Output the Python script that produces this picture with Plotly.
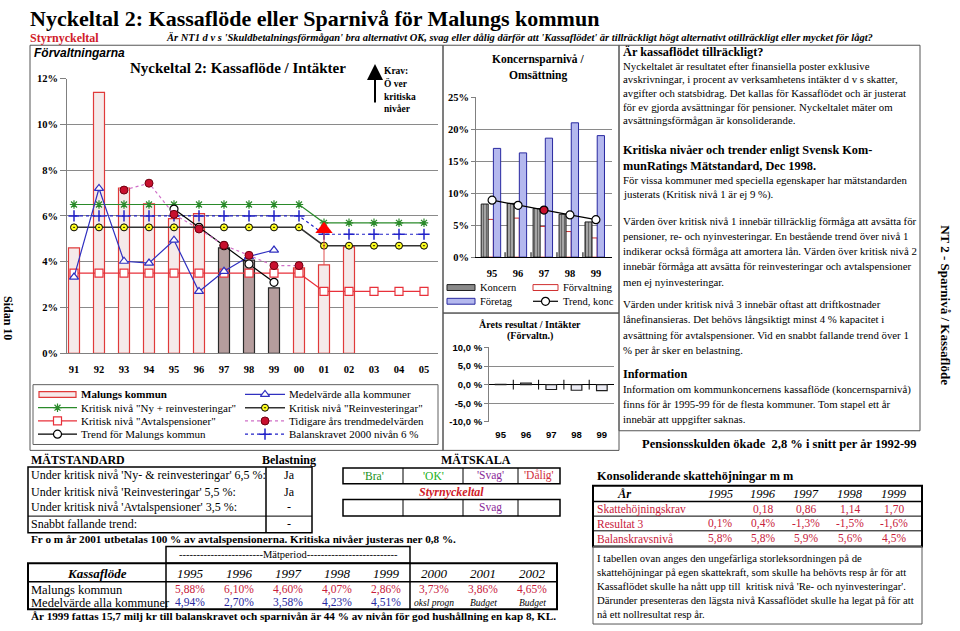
import plotly.graph_objects as go

W, H = 960, 631
def X(p): return p / W
def Y(p): return 1 - p / H

SERIF = "Liberation Serif, Times New Roman, serif"
SANS = "Liberation Sans, Arial, sans-serif"

# ---------------- data ----------------
years_main = ['91', '92', '93', '94', '95', '96', '97', '98', '99', '00', '01', '02', '03', '04', '05']
malung_bar = [4.60, 11.40, 7.22, 6.53, 5.88, 6.10, 4.60, 4.07, 2.86, 3.73, 3.86, 4.65]
medel_alla = [3.33, 7.20, 4.02, 3.94, 4.94, 2.70, 3.58, 4.23, 4.51]
krit_ny_rein = [6.5, 6.5, 6.5, 6.5, 6.5, 6.5, 6.5, 6.5, 6.5, 6.5, 5.7, 5.7, 5.7, 5.7, 5.7]
krit_reinv = [5.5, 5.5, 5.5, 5.5, 5.5, 5.5, 5.5, 5.5, 5.5, 5.5, 4.7, 4.7, 4.7, 4.7, 4.7]
krit_avtal = [3.5, 3.5, 3.5, 3.5, 3.5, 3.5, 3.5, 3.5, 3.5, 3.5, 2.7, 2.7, 2.7, 2.7, 2.7]
balanskrav = [6.0, 6.0, 6.0, 6.0, 6.0, 6.0, 6.0, 6.0, 6.0, 6.0, 5.2, 5.2, 5.2, 5.2, 5.2]
tidigare_years = ['93', '94', '95', '96', '97', '98', '99', '00']
tidigare = [7.13, 7.43, 6.07, 5.43, 4.72, 4.28, 3.83, 3.83]
trend_years = ['95', '96', '97', '98', '99']
trend_malung = [6.3, 5.5, 4.7, 3.9, 3.1]
krav_year = '01'
krav_value = 5.42

k_years = ['95', '96', '97', '98', '99']
k_koncern = [8.3, 8.4, 7.6, 6.7, 5.5]
k_forvaltning = [5.9, 6.1, 4.8, 4.0, 3.0]
k_foretag = [17.0, 16.3, 18.6, 21.0, 19.0]
k_trend = [8.9, 8.1, 7.35, 6.6, 5.85]

resultat3 = [0.1, 0.4, -1.3, -1.5, -1.6]

kf_years = ['1995', '1996', '1997', '1998', '1999', '2000', '2001', '2002']
kf_malung = [5.88, 6.10, 4.60, 4.07, 2.86, 3.73, 3.86, 4.65]
kf_medel = [4.94, 2.70, 3.58, 4.23, 4.51]
kf_medel_notes = ['oksl progn', 'Budget', 'Budget']

sk_years = ['1995', '1996', '1997', '1998', '1999']
sk_krav = [None, 0.18, 0.86, 1.14, 1.70]
sk_balans = [5.8, 5.8, 5.9, 5.6, 4.5]

def sv(v, dec, pct=True):
    s = f"{v:.{dec}f}".replace('.', ',')
    return s + ('%' if pct else '')

# ---------------- figure ----------------
fig = go.Figure()
ix = {y: i for i, y in enumerate(years_main)}

# main chart bars
bar_years = years_main[:len(malung_bar)]
dark_years = {'97', '98', '99'}
fig.add_trace(go.Bar(
    x=[ix[y] for y in bar_years], y=malung_bar, width=0.44,
    marker=dict(color=['#b59d9d' if y in dark_years else '#f5eaea' for y in bar_years],
                line=dict(color=['#2a2a2a' if y in dark_years else '#e03a3a' for y in bar_years], width=1.2)),
    xaxis='x', yaxis='y'))

xs_all = [ix[y] for y in years_main]
def sc(xs, ys, color, dash, sym, size, mfill, mline, lw=1.2, ax=('x', 'y'), mlw=1.2):
    fig.add_trace(go.Scatter(x=xs, y=ys, mode='lines+markers', xaxis=ax[0], yaxis=ax[1],
                             line=dict(color=color, width=lw, dash=dash),
                             marker=dict(symbol=sym, size=size, color=mfill, line=dict(color=mline, width=mlw))))

sc(xs_all, krit_avtal, '#e8303a', 'solid', 'square', 8, 'white', '#e8303a')
sc(xs_all, krit_reinv, '#333333', 'solid', 'circle-dot', 7, '#ffff20', '#000000', lw=1.5, mlw=1)
sc(xs_all, balanskrav, '#2222c8', 'dot', 'cross-thin', 8, '#2222c8', '#2222c8', mlw=1.5)
sc(xs_all, krit_ny_rein, '#2a8a2a', 'solid', 'asterisk', 7, '#2a8a2a', '#2a8a2a', mlw=1.2)
sc([ix[y] for y in years_main[:len(medel_alla)]], medel_alla, '#3030c0', 'solid', 'triangle-up', 8, 'white', '#3030c0')
sc([ix[y] for y in trend_years], trend_malung, '#000000', 'solid', 'circle', 8, 'white', '#000000')
sc([ix[y] for y in tidigare_years], tidigare, '#d070c8', 'dot', 'circle', 8, '#c8102e', '#700010', mlw=1)
# krav 2001
fig.add_trace(go.Scatter(x=[ix[krav_year], ix[krav_year]], y=[malung_bar[ix[krav_year]], krav_value],
                         mode='lines', line=dict(color='#e05050', width=1), xaxis='x', yaxis='y'))
fig.add_trace(go.Scatter(x=[ix[krav_year]], y=[krav_value], mode='markers',
                         marker=dict(symbol='triangle-up', size=15, color='#ff0000'), xaxis='x', yaxis='y'))

# Koncern chart
kx = list(range(len(k_years)))
fig.add_trace(go.Bar(x=kx, y=k_forvaltning, width=0.36, offset=-0.31, xaxis='x2', yaxis='y2',
                     marker=dict(color='white', line=dict(color='#d03030', width=1))))
fig.add_trace(go.Bar(x=kx, y=k_koncern, width=0.27, offset=-0.42, xaxis='x2', yaxis='y2',
                     marker=dict(color='#9a9a9a', line=dict(color='#202020', width=1),
                                 pattern=dict(shape='|', fgcolor='#202020', bgcolor='#b0b0b0', size=3, solidity=0.45))))
fig.add_trace(go.Bar(x=kx, y=k_foretag, width=0.28, offset=0.05, xaxis='x2', yaxis='y2',
                     marker=dict(color='#b4b8ee', line=dict(color='#2828a0', width=1))))
fig.add_trace(go.Scatter(x=kx, y=k_trend, mode='lines+markers', xaxis='x2', yaxis='y2',
                         line=dict(color='#000', width=1.2),
                         marker=dict(size=8, color=['white', 'white', '#c8102e', 'white', 'white'],
                                     line=dict(color='#000', width=1.2))))
fig.add_trace(go.Scatter(x=[i + 0.5 for i in kx[:-1]], y=[0] * (len(kx) - 1), mode='markers', xaxis='x2', yaxis='y2',
                         marker=dict(symbol='line-ns', size=7, line=dict(color='#000', width=1))))

# Årets resultat chart
fig.add_trace(go.Bar(x=kx, y=resultat3, width=0.42, xaxis='x3', yaxis='y3',
                     marker=dict(color='#ececf4', line=dict(color='#202020', width=1.2))))
fig.add_trace(go.Scatter(x=[i + 0.5 for i in kx[:-1]], y=[0] * (len(kx) - 1), mode='markers', xaxis='x3', yaxis='y3',
                         marker=dict(symbol='line-ns', size=7, line=dict(color='#000', width=1))))

# ---------------- legends (pixel overlay axis) ----------------
def lg(x0, x1, y, color, dash, sym, size, mfill, mline, lw=1.2, mlw=1.2):
    fig.add_trace(go.Scatter(x=[x0, x1], y=[y, y], mode='lines', line=dict(color=color, width=lw, dash=dash),
                             xaxis='x4', yaxis='y4'))
    fig.add_trace(go.Scatter(x=[(x0 + x1) / 2], y=[y], mode='markers', xaxis='x4', yaxis='y4',
                             marker=dict(symbol=sym, size=size, color=mfill, line=dict(color=mline, width=mlw))))

rows = [396, 409.5, 423, 436.5]
lg(245, 285, rows[0], '#3030c0', 'solid', 'triangle-up', 8, 'white', '#3030c0')
lg(38, 77, rows[1], '#2a8a2a', 'solid', 'asterisk', 7, '#2a8a2a', '#2a8a2a')
lg(245, 285, rows[1], '#333333', 'solid', 'circle-dot', 7, '#ffff20', '#000', lw=1.5, mlw=1)
lg(38, 77, rows[2], '#e8303a', 'solid', 'square', 8, 'white', '#e8303a')
lg(245, 285, rows[2], '#d070c8', 'dot', 'circle', 8, '#c8102e', '#700010', mlw=1)
lg(38, 77, rows[3], '#000', 'solid', 'circle', 8, 'white', '#000')
lg(245, 285, rows[3], '#2222c8', 'dot', 'cross-thin', 8, '#2222c8', '#2222c8', mlw=1.5)
lg(533, 558, 301, '#000', 'solid', 'circle', 8, 'white', '#000')

# ---------------- annotations & shapes ----------------
ann, shp = [], []
def T(x, y, s, size=10, bold=False, italic=False, color='#000', xa='left', fam=SERIF, angle=0):
    ann.append(dict(x=X(x), y=Y(y), xref='paper', yref='paper', text=s, showarrow=False,
                    xanchor=xa, yanchor='middle', textangle=angle, borderpad=0,
                    font=dict(family=fam, size=size, color=color,
                              weight='bold' if bold else 'normal', style='italic' if italic else 'normal')))

def R(x0, y0, x1, y1, lc='#404040', lw=1, fc='rgba(0,0,0,0)'):
    shp.append(dict(type='rect', xref='paper', yref='paper', x0=X(x0), x1=X(x1), y0=Y(y1), y1=Y(y0),
                    line=dict(color=lc, width=lw), fillcolor=fc))

def L(x0, y0, x1, y1, lc='#000', lw=1):
    shp.append(dict(type='line', xref='paper', yref='paper', x0=X(x0), x1=X(x1), y0=Y(y0), y1=Y(y1),
                    line=dict(color=lc, width=lw)))

# header
T(29, 13, 'Nyckeltal 2: Kassaflöde eller Sparnivå för Malungs kommun', 22, bold=True)
T(29, 33, 'Styrnyckeltal', 12, bold=True, color='#d0202a')
T(165, 32, "Är NT1 d v s 'Skuldbetalningsförmågan' bra alternativt OK, svag eller dålig därför att "
           "'Kassaflödet' är tillräckligt högt alternativt otillräckligt eller mycket för lågt?",
  10.5, bold=True, italic=True)
T(8, 318, 'Sidan 10', 12, bold=True, xa='center', angle=90)
T(946, 305, 'NT 2 - Sparnivå / Kassaflöde', 13, bold=True, xa='center', angle=90)

# frames
R(30, 40, 443, 453, '#555')
R(443, 40, 619, 313, '#555')
R(443, 313, 619, 453, '#555')
R(619, 40, 920, 433, '#555')

# main chart texts
T(33, 48, 'Förvaltningarna', 12, bold=True, italic=True, fam=SANS)
T(238, 63, 'Nyckeltal 2: Kassaflöde / Intäkter', 15, bold=True, xa='center')
ann.append(dict(x=X(375), y=Y(59), xref='paper', yref='paper', ax=0, ay=40, text='', showarrow=True,
                arrowhead=2, arrowsize=1.6, arrowwidth=2, arrowcolor='#000'))
for s, yy in [('Krav:', 66), ('Ö ver', 79), ('kritiska', 92.5), ('nivåer', 105)]:
    T(383, yy, s, 9.5, bold=True)

# main legend
R(33, 386, 438, 447, '#606060')
R(39, rows[0] - 3, 76, rows[0] + 3, '#e03a3a', 1.2, '#f5eaea')
left_lbl = ['<b>Malungs kommun</b>', 'Kritisk nivå "Ny + reinvesteringar"', 'Kritisk nivå "Avtalspensioner"',
            'Trend för Malungs kommun']
right_lbl = ['Medelvärde alla kommuner', 'Kritisk nivå "Reinvesteringar"', 'Tidigare års trendmedelvärden',
             'Balanskravet 2000 nivån 6 %']
for i in range(4):
    T(80, rows[i], left_lbl[i], 11)
    T(288, rows[i], right_lbl[i], 11)

# koncern chart texts + legend
T(538, 55, 'Koncernsparnivå /', 11.5, bold=True, xa='center')
T(538, 71, 'Omsättning', 11.5, bold=True, xa='center')
R(447, 284, 475, 290, '#202020', 1, '#8a8a8a')
R(533, 284, 558, 290, '#d03030', 1, 'white')
R(447, 298, 475, 304, '#2828a0', 1, '#b4b8ee')
T(479, 287, 'Koncern', 10.5)
T(562, 287, 'Förvaltning', 10.5)
T(479, 301, 'Företag', 10.5)
T(562, 301, 'Trend, konc', 10.5)

# årets resultat texts
T(530, 325, 'Årets resultat / Intäkter', 10, bold=True, xa='center')
T(530, 336, '(Förvaltn.)', 10, bold=True, xa='center')

# right text box
BODY = 10.8
T(622, 47, 'Är kassaflödet tillräckligt?', 12.3, bold=True)
p1 = ['Nyckeltalet är resultatet efter finansiella poster exklusive',
      'avskrivningar, i procent av verksamhetens intäkter d v s skatter,',
      'avgifter och statsbidrag. Det kallas för Kassaflödet och är justerat',
      'för ev gjorda avsättningar för pensioner. Nyckeltalet mäter om',
      'avsättningsförmågan är konsoliderande.']
for i, s in enumerate(p1):
    T(622, 61 + i * 13.9, s, BODY)
T(622, 147, 'Kritiska nivåer och trender enligt Svensk Kom-', 12.3, bold=True)
T(622, 163, 'munRatings Mätstandard, Dec 1998.', 12.3, bold=True)
T(622, 177, 'För vissa kommuner med speciella egenskaper har mätstandarden', BODY)
T(622, 192, 'justerats (Kritisk nivå 1 är ej 9 %).', BODY)
p2 = ['Värden över kritisk nivå 1 innebär tillräcklig förmåga att avsätta för',
      'pensioner, re- och nyinvesteringar. En bestående trend över nivå 1',
      'indikerar också förmåga att amortera lån. Värden över kritisk nivå 2',
      'innebär förmåga att avsätta för reinvesteringar och avtalspensioner',
      'men ej nyinvesteringar.']
for i, s in enumerate(p2):
    T(622, 219 + i * 15.5, s, BODY)
p3 = ['Värden under kritisk nivå 3 innebär oftast att driftkostnader',
      'lånefinansieras. Det behövs långsiktigt minst 4 % kapacitet i',
      'avsättning för avtalspensioner. Vid en snabbt fallande trend över 1',
      '% per år sker en belastning.']
for i, s in enumerate(p3):
    T(622, 304 + i * 15.5, s, BODY)
T(622, 375, 'Information', 12.3, bold=True)
p4 = ['Information om kommunkoncernens kassaflöde (koncernsparnivå)',
      'finns för år 1995-99 för de flesta kommuner. Tom stapel ett år',
      'innebär att uppgifter saknas.']
for i, s in enumerate(p4):
    T(622, 391 + i * 15, s, BODY)
T(918, 447, 'Pensionsskulden ökade  2,8 % i snitt per år 1992-99', 12.5, bold=True, xa='right')

# MÄTSTANDARD
T(30, 463, 'MÄTSTANDARD', 12, bold=True)
T(289, 463, 'Belastning', 12, bold=True, xa='center')
R(28, 470, 312, 537, '#000', 1.5)
L(266, 470, 266, 537, '#000', 1.5)
L(28, 520, 312, 520, '#000', 1)
ms_rows = ["Under kritisk nivå 'Ny- & reinvesteringar' 6,5 %:", "Under kritisk nivå 'Reinvesteringar' 5,5 %:",
           "Under kritisk nivå 'Avtalspensioner' 3,5 %:", 'Snabbt fallande trend:']
ms_bel = ['Ja', 'Ja', '-', '-']
for i, (s, b) in enumerate(zip(ms_rows, ms_bel)):
    yy = [478, 495, 511, 528][i]
    T(30, yy, s, 12)
    T(289, yy, b, 12, xa='center')

# MÄTSKALA
T(476, 463, 'MÄTSKALA', 12, bold=True, xa='center')
cells = [343, 403, 463, 518, 560]
scale_lbl = ["'Bra'", "'OK'", "'Svag'", "'Dålig'"]
scale_col = ['#209020', '#20b020', '#8a2a9a', '#d03040']
for (y0, y1) in [(471, 487), (503, 520)]:
    R(cells[0], y0, cells[-1], y1, '#000', 1.5)
    for c in cells[1:-1]:
        L(c, y0, c, y1, '#000', 1)
for i in range(4):
    T((cells[i] + cells[i + 1]) / 2, 479, scale_lbl[i], 11.5, color=scale_col[i], xa='center')
T(451, 495, 'Styrnyckeltal', 12, bold=True, italic=True, color='#d0202a', xa='center')
T((cells[2] + cells[3]) / 2, 511.5, 'Svag', 11.5, color=scale_col[2], xa='center')

T(30, 543, 'Fr o m år 2001 utbetalas 100 % av avtalspensionerna. Kritiska nivåer justeras ner 0,8 %.',
  11.2, bold=True)

# Kassaflöde table
R(166, 551, 410, 568, '#000', 1.5)
T(288, 559.5, '------------------------Mätperiod--------------------------', 10.5, xa='center')
R(28, 568, 557, 615, '#000', 2)
L(28, 587, 557, 587, '#000', 1.5)
L(166, 568, 166, 615, '#000', 1.5)
L(410, 568, 410, 615, '#000', 1.5)
kf_cols = [190, 239, 288, 337, 386, 434, 483, 532]
T(97, 578, 'Kassaflöde', 13, bold=True, italic=True, xa='center')
T(30, 595, 'Malungs kommun', 12.5)
T(30, 608.5, 'Medelvärde alla kommuner', 12.5)
for i, yr in enumerate(kf_years):
    T(kf_cols[i], 578, yr, 13, italic=True, xa='center')
    T(kf_cols[i], 595, sv(kf_malung[i], 2), 11.5, color='#c8203a', xa='center')
    if i < len(kf_medel):
        T(kf_cols[i], 608.5, sv(kf_medel[i], 2), 11.5, color='#2828a0', xa='center')
    else:
        T(kf_cols[i], 608.5, kf_medel_notes[i - len(kf_medel)], 9.5, italic=True, xa='center')
T(30, 622, 'År 1999 fattas 15,7 milj kr till balanskravet och sparnivån är 44 % av nivån för god hushållning en kap 8, KL.',
  11.2, bold=True)

# Konsoliderande skattehöjningar
T(596, 479, 'Konsoliderande skattehöjningar m m', 12.3, bold=True)
R(593, 489, 922, 551, '#000', 2)
L(593, 505, 922, 505, '#000', 1.5)
L(593, 520, 922, 520, '#000', 1)
L(593, 535, 922, 535, '#000', 1)
sk_cols = [720, 763, 806, 850, 894]
T(624, 497, 'År', 12.5, bold=True, italic=True, xa='center')
red = '#c8203a'
T(596, 513, 'Skattehöjningskrav', 11.5, color=red)
T(596, 528, 'Resultat 3', 11.5, color=red)
T(596, 543, 'Balanskravsnivå', 11.5, color=red)
for i, yr in enumerate(sk_years):
    T(sk_cols[i], 497, yr, 12.5, italic=True, xa='center')
    if sk_krav[i] is not None:
        T(sk_cols[i], 513, sv(sk_krav[i], 2, False), 11.5, color=red, xa='center')
    T(sk_cols[i], 528, sv(resultat3[i], 1), 11.5, color=red, xa='center')
    T(sk_cols[i], 543, sv(sk_balans[i], 1), 11.5, color=red, xa='center')
R(593, 551, 922, 630, '#555', 1)
p5 = ['I tabellen ovan anges den ungefärliga storleksordningen på de',
      'skattehöjningar på egen skattekraft, som skulle ha behövts resp år för att',
      "Kassaflödet skulle ha nått upp till  kritisk nivå 'Re- och nyinvesteringar'.",
      'Därunder presenteras den lägsta nivå Kassaflödet skulle ha legat på för att',
      'nå ett nollresultat resp år.']
for i, s in enumerate(p5):
    T(596, 562.5 + i * 14.4, s, 10.7)

# ---------------- layout ----------------
tickf = dict(family=SERIF, size=10.5, color='#000', weight='bold')
grid = '#8a8a8a'
fig.update_layout(
    width=W, height=H, margin=dict(l=0, r=0, t=0, b=0),
    paper_bgcolor='white', plot_bgcolor='rgba(0,0,0,0)',
    barmode='overlay', showlegend=False,
    annotations=ann, shapes=shp,
    xaxis=dict(domain=[X(67), X(438)], range=[-0.28, 14.56], tickmode='array', tickvals=xs_all,
               ticktext=years_main, showgrid=False, zeroline=False, showline=True, linecolor='#808080',
               ticks='', tickfont=tickf, ticklabelstandoff=6, anchor='y', fixedrange=True),
    yaxis=dict(domain=[Y(354), Y(74)], range=[0, 12], tickmode='array', tickvals=[0, 2, 4, 6, 8, 10, 12],
               ticktext=['0%', '2%', '4%', '6%', '8%', '10%', '12%'], showgrid=True, gridcolor=grid,
               showline=True, linecolor='#808080', ticks='outside', ticklen=6, tickcolor='#808080',
               zeroline=False, tickfont=tickf, anchor='x', fixedrange=True),
    xaxis2=dict(domain=[X(476), X(612)], range=[-0.62, 4.62], tickmode='array', tickvals=kx,
                ticktext=k_years, showgrid=False, zeroline=False, showline=True, linecolor='#000',
                ticks='', tickfont=tickf, ticklabelstandoff=6, anchor='y2', fixedrange=True),
    yaxis2=dict(domain=[Y(256), Y(93)], range=[0, 25], tickmode='array', tickvals=[0, 5, 10, 15, 20, 25],
                ticktext=['0%', '5%', '10%', '15%', '20%', '25%'], showgrid=True, gridcolor=grid,
                showline=True, linecolor='#808080', ticks='outside', ticklen=4, tickcolor='#808080',
                zeroline=False, tickfont=tickf, anchor='x2', fixedrange=True),
    xaxis3=dict(domain=[X(489), X(614)], range=[-0.46, 4.48], tickmode='array', tickvals=kx,
                ticktext=k_years, showgrid=False, zeroline=False, showline=False,
                ticks='', tickfont=dict(family=SANS, size=9.5, color='#000', weight='bold'),
                ticklabelstandoff=6, anchor='y3', fixedrange=True),
    yaxis3=dict(domain=[Y(424), Y(348)], range=[-10, 10], tickmode='array', tickvals=[-10, -5, 0, 5, 10],
                ticktext=['-10,0 %', '-5,0 %', '0,0 %', '5,0 %', '10,0 %'], showgrid=True, gridcolor=grid,
                showline=True, linecolor='#808080', ticks='outside', ticklen=4, tickcolor='#808080',
                zeroline=True, zerolinecolor='#000', zerolinewidth=1,
                tickfont=dict(family=SANS, size=9.5, color='#000', weight='bold'), anchor='x3', fixedrange=True),
    xaxis4=dict(domain=[0, 1], range=[0, W], visible=False, anchor='y4', fixedrange=True),
    yaxis4=dict(domain=[0, 1], range=[H, 0], visible=False, anchor='x4', fixedrange=True),
)

fig.write_html("out.html", config={'displayModeBar': False},
               post_script="document.body.style.margin='0';document.body.style.overflow='hidden';")
